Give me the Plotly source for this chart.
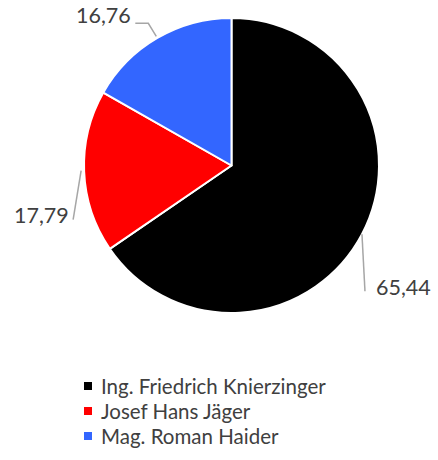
import math
import plotly.graph_objects as go

labels = ["Ing. Friedrich Knierzinger", "Josef Hans Jäger", "Mag. Roman Haider"]
values = [65.44, 17.79, 16.76]
colors = ["#000000", "#ff0000", "#3366ff"]

W, H = 438, 460
CX, CY, R = 231.5, 165.5, 147.5

def px(x):
    return x / W

def py(y):
    return 1 - y / H

fig = go.Figure(go.Pie(
    labels=labels, values=values, sort=False, direction="clockwise", rotation=0,
    marker=dict(colors=colors, line=dict(color="white", width=2)),
    textinfo="none", hoverinfo="label+value", showlegend=False,
    domain=dict(x=[px(CX - R), px(CX + R)], y=[py(CY + R), py(CY - R)]),
))

# label placement (style): leader path offsets, text anchor
total = sum(values)
label_style = [
    dict(path=[(0, 0), (3, 57)], text=(12, 53), anchor="left"),
    dict(path=[(-3, -1), (-11, 48)], text=(-13, 43), anchor="right"),
    dict(path=None, text=None, anchor="right"),
]

shapes = []
annotations = []
start = 0.0
for i, v in enumerate(values):
    a0 = start
    a1 = start + v / total * 360
    start = a1
    mid = (a0 + a1) / 2
    s = label_style[i]
    txt = f"{v:.2f}".replace(".", ",")
    if i == 2:
        ang = a1 - 30.2
        ex = CX + (R + 2) * math.sin(math.radians(ang))
        ey = CY - (R + 2) * math.cos(math.radians(ang))
        pts = [(ex, ey), (ex - 8, ey - 13), (ex - 21, ey - 13)]
        tx, ty = ex - 23, ey - 21
    else:
        ex = CX + R * math.sin(math.radians(mid))
        ey = CY - R * math.cos(math.radians(mid))
        pts = [(ex + dx, ey + dy) for dx, dy in s["path"]]
        tx, ty = ex + s["text"][0], ey + s["text"][1]
    path = "M " + " L ".join(f"{px(x)},{py(y)}" for x, y in pts)
    shapes.append(dict(type="path", xref="paper", yref="paper", path=path,
                       line=dict(color="#a6a6a6", width=1.5)))
    annotations.append(dict(x=px(tx), y=py(ty), xref="paper", yref="paper",
                            text=txt, showarrow=False, xanchor=s["anchor"], yanchor="middle",
                            font=dict(size=21.5, color="#404040", family="Lato")))

# custom legend
for i, (lab, col) in enumerate(zip(labels, colors)):
    yc = 386 + 25 * i
    shapes.append(dict(type="rect", xref="paper", yref="paper",
                       x0=px(84), x1=px(92), y0=py(yc + 4), y1=py(yc - 4),
                       fillcolor=col, line=dict(width=0)))
    annotations.append(dict(x=px(99), y=py(yc), xref="paper", yref="paper", text=lab,
                            showarrow=False, xanchor="left", yanchor="middle",
                            font=dict(size=20.5, color="#404040", family="Lato")))

fig.update_layout(
    width=W, height=H, margin=dict(l=0, r=0, t=0, b=0),
    paper_bgcolor="white", plot_bgcolor="white",
    shapes=shapes, annotations=annotations,
)

fig.write_html("out.html")
